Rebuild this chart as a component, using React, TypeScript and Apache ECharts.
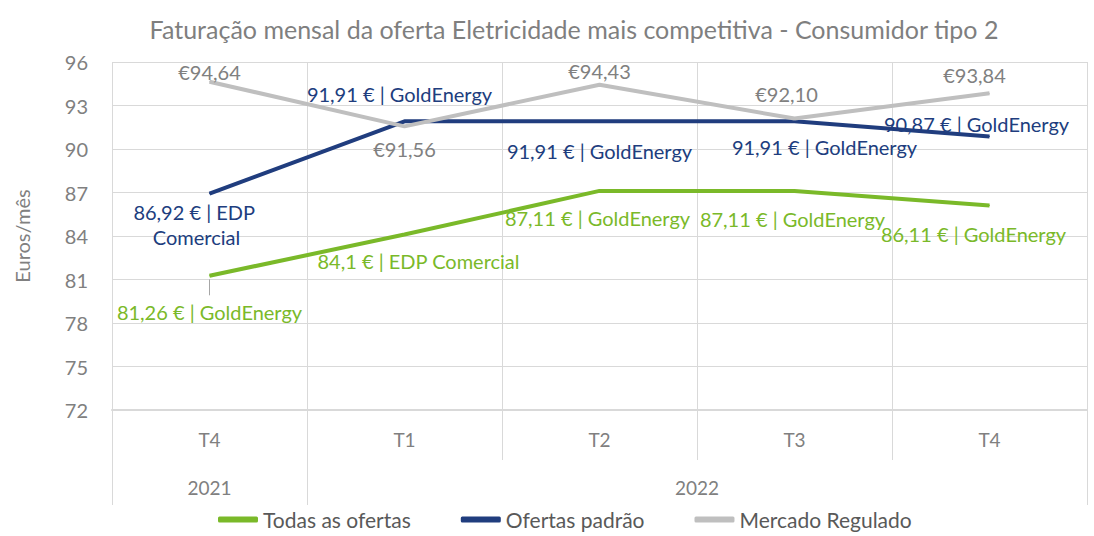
import React, { useEffect, useRef } from "react";
import * as echarts from "echarts";

const quarters = ["T4", "T1", "T2", "T3", "T4"];
const years = ["2021", "2022"];
const yearSpans = [1, 4];

const seriesNames = ["Todas as ofertas", "Ofertas padrão", "Mercado Regulado"];
const todasValues = [81.26, 84.1, 87.11, 87.11, 86.11];
const todasProviders = ["GoldEnergy", "EDP Comercial", "GoldEnergy", "GoldEnergy", "GoldEnergy"];
const padraoValues = [86.92, 91.91, 91.91, 91.91, 90.87];
const padraoProviders = ["EDP Comercial", "GoldEnergy", "GoldEnergy", "GoldEnergy", "GoldEnergy"];
const reguladoValues = [94.64, 91.56, 94.43, 92.1, 93.84];

const yMin = 72;
const yMax = 96;
const yStep = 3;

const GREEN = "#7ab929";
const BLUE = "#203d7e";
const GREY_LINE = "#bfbfbf";
const GREY_TEXT = "#808080";
const GRID = "#d9d9d9";
const FONT = "Lato, 'Noto Sans', sans-serif";

export default function App() {
  const ref = useRef<HTMLDivElement>(null);

  useEffect(() => {
    document.body.style.margin = "0";
    if (!ref.current) return;
    const chart = echarts.init(ref.current, null, { renderer: "svg" });

    const fmtProv = (v: number, p: string) => `${String(v).replace(".", ",")} € | ${p}`;

    const greenLabels: any[] = [
      { position: "bottom", distance: 26 },
      { position: "bottom", distance: 16, offset: [14, 0] },
      { position: "bottom", distance: 17, offset: [-2, 0] },
      { position: "bottom", distance: 18, offset: [-2, 0] },
      { position: "bottom", distance: 18, offset: [-16, 0] },
    ];
    const blueLabels: any[] = [
      { position: "bottom", distance: 5, offset: [-13, 0], width: 140, overflow: "break", lineHeight: 25 },
      { position: "top", distance: 17, offset: [-5, 0] },
      { position: "bottom", distance: 19 },
      { position: "bottom", distance: 15, offset: [30, 0] },
      { position: "top", distance: 2, offset: [-13, 0] },
    ];
    const greyLabels: any[] = [
      { position: "top", distance: -1 },
      { position: "bottom", distance: 12 },
      { position: "top", distance: 3 },
      { position: "top", distance: 14, offset: [-8, 0] },
      { position: "top", distance: 8, offset: [-15, 0] },
    ];

    let acc = 0;
    const yearTicks: number[] = [0];
    const yearCenters: number[] = [];
    yearSpans.forEach((s) => {
      yearCenters.push(acc + s / 2);
      acc += s;
      yearTicks.push(acc);
    });

    const labelBase = { show: true, fontFamily: FONT, fontSize: 20 };

    chart.setOption({
      animation: false,
      textStyle: { fontFamily: FONT },
      title: {
        text: "Faturação mensal da oferta Eletricidade mais competitiva - Consumidor tipo 2",
        left: 569,
        top: 11,
        textAlign: "center",
        textStyle: { fontFamily: FONT, fontSize: 25, fontWeight: "normal", color: "#7f7f7f" },
      },
      legend: {
        bottom: 1,
        left: 213,
        itemGap: 50,
        itemWidth: 40,
        itemHeight: 6,
        icon: "roundRect",
        textStyle: { fontFamily: FONT, fontSize: 21, color: "#595959" },
        data: seriesNames,
      },
      grid: { left: 112, right: 7, top: 62, bottom: 126, containLabel: false },
      xAxis: [
        {
          type: "category",
          data: quarters,
          boundaryGap: true,
          axisLine: { show: true, lineStyle: { color: GRID, width: 2 } },
          axisTick: { show: true, length: 50, lineStyle: { color: GRID, width: 1 } },
          splitLine: { show: true, lineStyle: { color: GRID, width: 1 } },
          axisLabel: { margin: 20, fontFamily: FONT, fontSize: 19, color: GREY_TEXT },
        },
        {
          type: "value",
          position: "bottom",
          min: 0,
          max: acc,
          axisLine: { show: false },
          splitLine: { show: false },
          axisTick: { show: true, length: 95, customValues: yearTicks, lineStyle: { color: GRID, width: 1 } },
          axisLabel: {
            customValues: yearCenters,
            margin: 68,
            fontFamily: FONT,
            fontSize: 19,
            color: GREY_TEXT,
            formatter: (v: number) => {
              const i = yearCenters.indexOf(v);
              return i >= 0 ? years[i] : "";
            },
          },
        },
      ],
      yAxis: {
        type: "value",
        min: yMin,
        max: yMax,
        interval: yStep,
        name: "Euros/mês",
        nameLocation: "middle",
        nameRotate: 90,
        nameGap: 80,
        nameTextStyle: { fontFamily: FONT, fontSize: 20, color: GREY_TEXT },
        axisLine: { show: false },
        axisTick: { show: false },
        splitLine: { show: true, lineStyle: { color: GRID, width: 1 } },
        axisLabel: { margin: 24, fontFamily: FONT, fontSize: 20, color: GREY_TEXT },
      },
      series: [
        {
          name: seriesNames[0],
          type: "line",
          symbol: "circle",
          symbolSize: 1,
          lineStyle: { color: GREEN, width: 4 },
          itemStyle: { color: GREEN },
          data: todasValues.map((v, i) => ({
            value: v,
            label: { ...labelBase, color: GREEN, formatter: fmtProv(v, todasProviders[i]), ...greenLabels[i] },
          })),
          markLine: {
            silent: true,
            symbol: "none",
            label: { show: false },
            lineStyle: { color: "#a6a6a6", width: 1, type: "solid" },
            data: [[{ coord: [0, todasValues[0] - 0.25] }, { coord: [0, todasValues[0] - 1.35] }]],
          },
        },
        {
          name: seriesNames[1],
          type: "line",
          symbol: "circle",
          symbolSize: 1,
          lineStyle: { color: BLUE, width: 4 },
          itemStyle: { color: BLUE },
          data: padraoValues.map((v, i) => ({
            value: v,
            label: { ...labelBase, color: BLUE, formatter: fmtProv(v, padraoProviders[i]), ...blueLabels[i] },
          })),
        },
        {
          name: seriesNames[2],
          type: "line",
          symbol: "circle",
          symbolSize: 1,
          lineStyle: { color: GREY_LINE, width: 4 },
          itemStyle: { color: GREY_LINE },
          data: reguladoValues.map((v, i) => ({
            value: v,
            label: {
              ...labelBase,
              color: GREY_TEXT,
              formatter: "€" + v.toFixed(2).replace(".", ","),
              ...greyLabels[i],
            },
          })),
        },
      ],
    });

    return () => chart.dispose();
  }, []);

  return <div ref={ref} style={{ width: 1094, height: 536 }} />;
}
